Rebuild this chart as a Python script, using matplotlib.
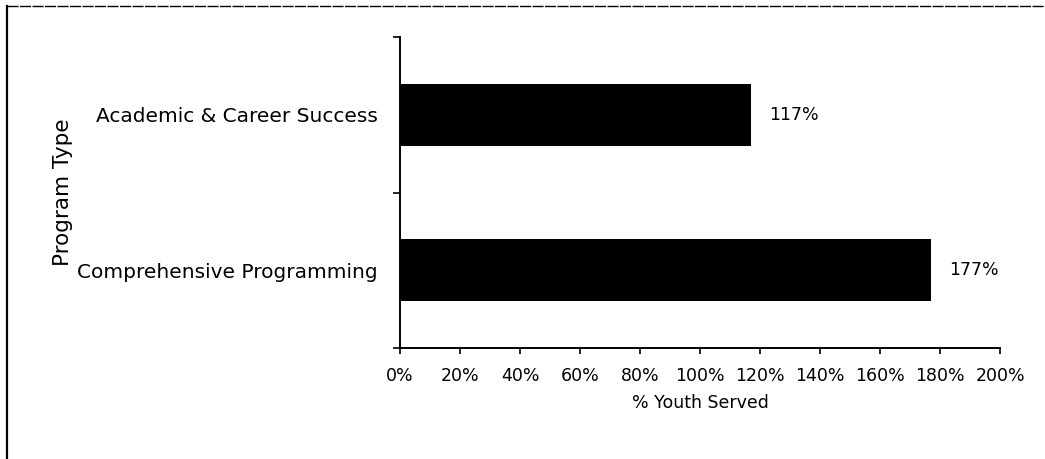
import matplotlib.pyplot as plt
from matplotlib.lines import Line2D
from matplotlib.ticker import FixedLocator, PercentFormatter

# program types, bottom to top
programs = ['Comprehensive Programming', 'Academic & Career Success']
youth_served = [177, 117]
x_ticks = list(range(0, 201, 20))

fig = plt.figure(figsize=(10.45, 4.59), dpi=100)
ax = fig.add_axes([0.3828, 0.2418, 0.5742, 0.6776])

ypos = list(range(len(programs)))
ax.barh(ypos, youth_served, height=0.4, color='black')

for y, v in zip(ypos, youth_served):
    ax.text(v + 6, y, f'{v}%', va='center', ha='left', fontsize=12.5)

ax.set_xlim(0, 200)
ax.set_ylim(-0.5, len(programs) - 0.5)
ax.set_xticks(x_ticks)
ax.xaxis.set_major_formatter(PercentFormatter(decimals=0))
ax.set_yticks(ypos)
ax.set_yticklabels(programs)
ax.yaxis.set_minor_locator(FixedLocator([-0.5, 0.5, 1.5]))

ax.tick_params(axis='y', which='major', length=0, pad=16, labelsize=14.5)
ax.tick_params(axis='y', which='minor', length=5, width=1.2, direction='out')
ax.tick_params(axis='x', length=4, width=1.2, direction='out', labelsize=12.5, pad=10)

for side in ['top', 'right']:
    ax.spines[side].set_visible(False)
for side in ['left', 'bottom']:
    ax.spines[side].set_linewidth(1.4)

ax.set_xlabel('% Youth Served', fontsize=12.5, labelpad=6)
ax.set_ylabel('Program Type', fontsize=15.5)
ax.yaxis.set_label_coords(-0.545, 0.5)

# frame lines along the top and left edge of the page
fig.add_artist(Line2D([7 / 1045, 7 / 1045], [0, 1 - 6 / 459], transform=fig.transFigure,
                      color='black', lw=1.6))
fig.add_artist(Line2D([7 / 1045, 1], [1 - 6 / 459, 1 - 6 / 459], transform=fig.transFigure,
                      color='black', lw=1.0, ls=(0, (8, 1))))

fig.savefig('out.png', dpi=100)
